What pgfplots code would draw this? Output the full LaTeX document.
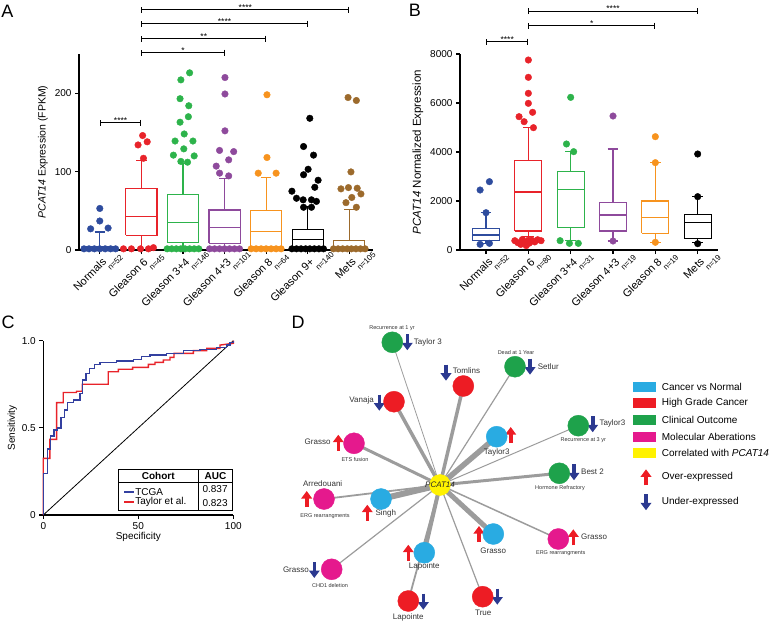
\documentclass[border=0pt]{standalone}
\usepackage{fontspec}
\setmainfont{Liberation Sans}
\usepackage{pgfplots}
\pgfplotsset{compat=1.18}
\usetikzlibrary{arrows.meta}

\definecolor{cNor}{HTML}{2E4C9E}
\definecolor{cG6}{HTML}{E8232A}
\definecolor{cG34}{HTML}{2DB34B}
\definecolor{cG43}{HTML}{8E4A9C}
\definecolor{cG8}{HTML}{F7931E}
\definecolor{cG9}{HTML}{000000}
\definecolor{cMet}{HTML}{9C6A2C}
\definecolor{rocB}{HTML}{3340A0}
\definecolor{rocR}{HTML}{E8232A}
\definecolor{dBlue}{HTML}{29ABE2}
\definecolor{dRed}{HTML}{ED1C24}
\definecolor{dGreen}{HTML}{1EA24B}
\definecolor{dPink}{HTML}{E5198D}
\definecolor{dYel}{HTML}{FFF200}
\definecolor{dNavy}{HTML}{2B3990}
\definecolor{dEdge}{HTML}{9C9C9C}

% category name with its group size set lower and to the right
\newcommand{\cat}[2]{#1\rlap{\hspace{-3pt}\raisebox{-8.5pt}{\fontsize{8}{9}\selectfont #2}}}

\pgfplotsset{
  panel/.style={scale only axis, axis x line*=bottom, axis y line*=left,
    axis line style={line width=1.1pt}, tick style={black, line width=1.1pt},
    tick align=outside, major tick length=4pt, clip=false,
    ticklabel style={font=\fontsize{10}{12}\selectfont},
    label style={font=\fontsize{10.5}{12}\selectfont},
    /pgf/number format/assume math mode=true, /pgf/number format/1000 sep={},
    scaled ticks=false},
  pts/.style={only marks, mark=*, mark size=3.3pt, color=#1, mark options={fill=#1, draw=#1}},
  bxm/.style={draw=#1, line width=1.1pt, solid, unbounded coords=jump, line join=miter},
  catlab/.style={xticklabel style={xshift=8pt, yshift=-8pt, rotate=45, anchor=base east, inner sep=1pt, font=\fontsize{11}{12}\selectfont}},
  edge/.style={dEdge, line cap=round},
  nd/.style={only marks, mark=*, mark size=10.5pt, mark options={fill=#1, draw=#1}},
  arr/.style={#1, line width=3.6pt, -{Triangle[width=10.5pt,length=7.5pt]}},
}
\tikzset{
  sig/.style={line width=1pt, {Bar[width=6pt]}-{Bar[width=6pt]}},
  st/.style={above=-2pt, font=\fontsize{8.5}{8.5}\selectfont, inner sep=1pt},
  lab/.style={font=\fontsize{8}{9}\selectfont, text=black!80, inner sep=1pt},
  sm/.style={font=\fontsize{5.5}{6}\selectfont, text=black!80, inner sep=1pt},
  leg/.style={font=\fontsize{10}{12}\selectfont, anchor=west, inner sep=0pt},
}

\begin{document}
\begin{tikzpicture}
\path[use as bounding box] (0,0) rectangle (780pt,-623pt);

\node[font=\fontsize{18}{20}\selectfont] at (7.5pt,-11.5pt) {A};
\node[font=\fontsize{18}{20}\selectfont] at (415pt,-10pt) {B};
\node[font=\fontsize{18}{20}\selectfont] at (8pt,-322pt) {C};
\node[font=\fontsize{18}{20}\selectfont] at (298pt,-322pt) {D};

% ---------------- A ----------------
\begin{axis}[panel, catlab, at={(79pt,-250pt)}, anchor=south west,
  width=294pt, height=196pt, xmin=0.5, xmax=7.57, ymin=0, ymax=250,
  ytick={0,100,200}, xtick={1,...,7},
  xticklabels={{\cat{Normals}{n=52}}, {\cat{Gleason 6}{n=45}}, {\cat{Gleason 3+4}{n=146}},
    {\cat{Gleason 4+3}{n=101}}, {\cat{Gleason 8}{n=64}}, {\cat{Gleason 9+}{n=140}},
    {\cat{Mets}{n=105}}},
  ylabel={\textit{PCAT14} Expression (FPKM)}]
% boxes: outline, median, whiskers with caps
\addplot[bxm=cNor] coordinates {(0.625,0.5) (1.375,0.5) (1.375,4.5) (0.625,4.5) (0.625,0.5) (nan,nan) (0.625,2) (1.375,2) (nan,nan) (1,4.5) (1,23) (nan,nan) (0.875,23) (1.125,23)};
\addplot[bxm=cG6] coordinates {(1.625,19) (2.375,19) (2.375,79) (1.625,79) (1.625,19) (nan,nan) (1.625,43) (2.375,43) (nan,nan) (2,79) (2,114) (nan,nan) (1.875,114) (2.125,114) (nan,nan) (2,19) (2,0)};
\addplot[bxm=cG34] coordinates {(2.625,10) (3.375,10) (3.375,71) (2.625,71) (2.625,10) (nan,nan) (2.625,35) (3.375,35) (nan,nan) (3,71) (3,110) (nan,nan) (2.875,110) (3.125,110) (nan,nan) (3,10) (3,0)};
\addplot[bxm=cG43] coordinates {(3.625,8.5) (4.375,8.5) (4.375,51) (3.625,51) (3.625,8.5) (nan,nan) (3.625,28.5) (4.375,28.5) (nan,nan) (4,51) (4,91.5) (nan,nan) (3.875,91.5) (4.125,91.5) (nan,nan) (4,8.5) (4,0)};
\addplot[bxm=cG8] coordinates {(4.625,5) (5.375,5) (5.375,50) (4.625,50) (4.625,5) (nan,nan) (4.625,24) (5.375,24) (nan,nan) (5,50) (5,92) (nan,nan) (4.875,92) (5.125,92) (nan,nan) (5,5) (5,0)};
\addplot[bxm=cG9] coordinates {(5.625,2) (6.375,2) (6.375,26.5) (5.625,26.5) (5.625,2) (nan,nan) (5.625,13.5) (6.375,13.5) (nan,nan) (6,26.5) (6,55) (nan,nan) (5.875,55) (6.125,55)};
\addplot[bxm=cMet] coordinates {(6.625,0.3) (7.375,0.3) (7.375,12) (6.625,12) (6.625,0.3) (nan,nan) (6.625,3) (7.375,3) (nan,nan) (7,12) (7,52) (nan,nan) (6.875,52) (7.125,52)};

\addplot[pts=cNor] coordinates {(1,53) (1,37) (0.78,27) (1.2,28) (0.62,1.5) (0.74,1.5) (0.87,1.5) (1,1.5) (1.13,1.5) (1.26,1.5) (1.38,1.5)};
\addplot[pts=cG6] coordinates {(2.03,146) (1.92,134) (2.14,138) (2.05,117) (1.57,1.5) (1.76,1.5) (1.98,1.5) (2.17,1.5) (2.29,3)};
\addplot[pts=cG34] coordinates {(2.95,217) (3.16,226) (2.93,193) (3.14,184) (3.13,170) (2.93,163) (3.03,148) (2.81,139) (3.24,139) (3.02,129) (2.77,121) (3.27,120) (2.95,113) (3.11,112) (2.62,1.5) (2.73,1.5) (2.84,1.5) (2.95,1.5) (3.05,1.5) (3.16,1.5) (3.27,1.5) (3.38,1.5)};
\addplot[pts=cG43] coordinates {(4.01,220) (4.01,199) (4.01,152) (3.88,127) (4.22,125.5) (4.10,115) (3.80,107) (3.88,98) (4.10,94.5) (3.64,1.5) (3.76,1.5) (3.88,1.5) (4,1.5) (4.12,1.5) (4.24,1.5) (4.36,1.5)};
\addplot[pts=cG8] coordinates {(5.02,198) (5.02,118) (4.81,98) (5.24,98) (4.64,1.5) (4.76,1.5) (4.88,1.5) (5,1.5) (5.12,1.5) (5.24,1.5) (5.36,1.5)};
\addplot[pts=cG9] coordinates {(6.05,168) (5.90,132) (6.14,121) (6.01,103) (5.90,96) (6.25,89) (5.62,75) (6.17,80) (5.73,66) (5.89,64) (6.09,64) (6.21,62) (5.90,54.5) (6.09,54.5) (5.62,1.5) (5.73,1.5) (5.84,1.5) (5.95,1.5) (6.05,1.5) (6.16,1.5) (6.27,1.5) (6.38,1.5)};
\addplot[pts=cMet] coordinates {(6.97,194.5) (7.17,190.7) (7.04,99.6) (6.80,78) (6.98,79.6) (7.19,78.8) (7.28,71.5) (7.06,67) (6.92,60.4) (7.17,54.5) (6.62,1.5) (6.73,1.5) (6.84,1.5) (6.95,1.5) (7.05,1.5) (7.16,1.5) (7.27,1.5) (7.38,1.5)};

\draw[sig] (axis cs:1,162) -- node[st]{****} (axis cs:2,162);
\draw[sig] (axis cs:2,251.6) -- node[st]{*} (axis cs:4,251.6);
\draw[sig] (axis cs:2,269.5) -- node[st]{**} (axis cs:5,269.5);
\draw[sig] (axis cs:2,288.6) -- node[st]{****} (axis cs:6,288.6);
\draw[sig] (axis cs:2,306.5) -- node[st]{****} (axis cs:7,306.5);
\end{axis}

% ---------------- B ----------------
\begin{axis}[panel, catlab, at={(460pt,-250pt)}, anchor=south west,
  width=258pt, height=196pt, xmin=0.385, xmax=6.48, ymin=0, ymax=8000,
  ytick={0,2000,4000,6000,8000}, xtick={1,...,6},
  xticklabels={{\cat{Normals}{n=52}}, {\cat{Gleason 6}{n=80}}, {\cat{Gleason 3+4}{n=31}},
    {\cat{Gleason 4+3}{n=19}}, {\cat{Gleason 8}{n=19}}, {\cat{Mets}{n=19}}},
  ylabel={\textit{PCAT14} Normalized Expression},
  ylabel style={font=\fontsize{11.5}{13}\selectfont}]
\addplot[bxm=cNor] coordinates {(0.68,380) (1.32,380) (1.32,885) (0.68,885) (0.68,380) (nan,nan) (0.68,612) (1.32,612) (nan,nan) (1,885) (1,1523) (nan,nan) (0.875,1523) (1.125,1523) (nan,nan) (1,380) (1,280) (nan,nan) (0.875,280) (1.125,280)};
\addplot[bxm=cG6] coordinates {(1.68,775) (2.32,775) (2.32,3660) (1.68,3660) (1.68,775) (nan,nan) (1.68,2367) (2.32,2367) (nan,nan) (2,3660) (2,4993) (nan,nan) (1.875,4993) (2.125,4993) (nan,nan) (2,775) (2,544) (nan,nan) (1.875,544) (2.125,544)};
\addplot[bxm=cG34] coordinates {(2.68,911) (3.32,911) (3.32,3197) (2.68,3197) (2.68,911) (nan,nan) (2.68,2477) (3.32,2477) (nan,nan) (3,3197) (3,4014) (nan,nan) (2.875,4014) (3.125,4014) (nan,nan) (3,911) (3,380) (nan,nan) (2.875,380) (3.125,380)};
\addplot[bxm=cG43] coordinates {(3.68,776) (4.32,776) (4.32,1931) (3.68,1931) (3.68,776) (nan,nan) (3.68,1429) (4.32,1429) (nan,nan) (4,1931) (4,4123) (nan,nan) (3.875,4123) (4.125,4123) (nan,nan) (4,776) (4,367) (nan,nan) (3.875,367) (4.125,367)};
\addplot[bxm=cG8] coordinates {(4.68,680) (5.32,680) (5.32,2000) (4.68,2000) (4.68,680) (nan,nan) (4.68,1320) (5.32,1320) (nan,nan) (5,2000) (5,3565) (nan,nan) (4.875,3565) (5.125,3565) (nan,nan) (5,680) (5,314) (nan,nan) (4.875,314) (5.125,314)};
\addplot[bxm=cG9] coordinates {(5.68,476) (6.32,476) (6.32,1442) (5.68,1442) (5.68,476) (nan,nan) (5.68,1129) (6.32,1129) (nan,nan) (6,1442) (6,2177) (nan,nan) (5.875,2177) (6.125,2177) (nan,nan) (6,476) (6,290) (nan,nan) (5.875,290) (6.125,290)};

\addplot[pts=cNor] coordinates {(0.86,2449) (1.08,2789) (1,1523) (0.86,232) (1.08,272)};
\addplot[pts=cG6] coordinates {(2,7755) (2,7048) (2,6395) (2,5986) (2.1,5620) (1.78,5442) (1.9,5238) (2.12,4993) (1.68,380) (1.75,300) (1.82,230) (1.89,330) (1.95,180) (2.02,280) (2.08,400) (2.15,330) (2.22,420) (2.3,380) (1.86,430) (2.0,400)};
\addplot[pts=cG34] coordinates {(3,6231) (2.9,4327) (3.07,4014) (2.75,380) (2.97,272) (3.18,272)};
\addplot[pts=cG43] coordinates {(4,5469) (4,367)};
\addplot[pts=cG8] coordinates {(5,4626) (5,3565) (5,314)};
\addplot[pts=cG9] coordinates {(6,3918) (6,2177) (6,258)};

\draw[sig] (axis cs:1,8502) -- node[st]{****} (axis cs:2,8502);
\draw[sig] (axis cs:2,9155) -- node[st]{*} (axis cs:5,9155);
\draw[sig] (axis cs:2,9755) -- node[st]{****} (axis cs:6,9755);
\end{axis}

% ---------------- C ----------------
\begin{axis}[panel, at={(43.3pt,-515pt)}, anchor=south west,
  width=190pt, height=174.3pt, xmin=0, xmax=100, ymin=0, ymax=1,
  xtick={0,50,100}, ytick={0,0.5,1}, yticklabels={0,0.5,1.0},
  xlabel={Specificity}, ylabel={Sensitivity},
  xlabel style={yshift=4pt}, ylabel style={yshift=-2pt},
  label style={font=\fontsize{10}{12}\selectfont}]
\addplot[black, line width=0.8pt] coordinates {(0,0) (100,1)};
\addplot[rocR, line width=1.4pt] coordinates {(0,0) (0,0.325) (3.5,0.325) (3.5,0.434) (7,0.434) (7,0.645) (10.5,0.645) (10.5,0.703) (17.5,0.703) (17.5,0.71) (20.5,0.71) (20.5,0.75) (34.2,0.75) (34.2,0.822) (39.5,0.822) (39.5,0.836) (47,0.836) (47,0.847) (55.3,0.847) (55.3,0.864) (58.8,0.864) (58.8,0.876) (63.2,0.876) (63.2,0.889) (66.7,0.889) (66.7,0.904) (68.8,0.904) (68.8,0.927) (79,0.927) (79,0.943) (86,0.943) (86,0.956) (93,0.956) (93,0.975) (100,0.985) (100,1)};
\addplot[rocB, line width=1.4pt] coordinates {(0,0) (0,0.239) (2.3,0.239) (2.3,0.379) (3.9,0.379) (3.9,0.453) (5.6,0.453) (5.6,0.488) (7.4,0.488) (7.4,0.50) (9.3,0.50) (9.3,0.56) (11.1,0.56) (11.1,0.602) (12.8,0.602) (12.8,0.644) (15.8,0.644) (15.8,0.66) (19.3,0.66) (19.3,0.698) (20.7,0.698) (20.7,0.774) (22.5,0.774) (22.5,0.813) (24.2,0.813) (24.2,0.841) (26.8,0.841) (26.8,0.864) (29.8,0.864) (29.8,0.876) (38.6,0.876) (38.6,0.883) (47.4,0.883) (47.4,0.893) (51.8,0.893) (51.8,0.908) (56.1,0.908) (56.1,0.918) (64.9,0.918) (64.9,0.927) (73.7,0.927) (73.7,0.943) (82.5,0.943) (82.5,0.95) (91.2,0.95) (91.2,0.962) (96.5,0.962) (96.5,0.975) (98.2,0.975) (98.2,0.989) (100,0.989) (100,1)};
% legend table
\fill[white] (axis cs:39.5,0.029) rectangle (axis cs:99.5,0.262);
\draw[line width=0.8pt] (axis cs:39.5,0.029) rectangle (axis cs:99.5,0.262);
\draw[line width=0.8pt] (axis cs:39.5,0.188) -- (axis cs:99.5,0.188);
\draw[line width=0.8pt] (axis cs:81.6,0.029) -- (axis cs:81.6,0.262);
\node[font=\fontsize{10}{12}\selectfont\bfseries] at (axis cs:60.5,0.224) {Cohort};
\node[font=\fontsize{10}{12}\selectfont\bfseries] at (axis cs:90.6,0.224) {AUC};
\draw[rocB, line width=1.8pt] (axis cs:42.5,0.134) -- (axis cs:47.8,0.134);
\draw[rocR, line width=1.8pt] (axis cs:42.5,0.073) -- (axis cs:47.8,0.073);
\node[font=\fontsize{10}{12}\selectfont, anchor=west, inner sep=0pt] at (axis cs:48.3,0.134) {TCGA};
\node[font=\fontsize{10}{12}\selectfont, anchor=west, inner sep=0pt] at (axis cs:48.3,0.073) {Taylor et al.};
\node[font=\fontsize{10}{12}\selectfont] at (axis cs:90.4,0.147) {0.837};
\node[font=\fontsize{10}{12}\selectfont] at (axis cs:90.4,0.067) {0.823};
\end{axis}

% ---------------- D ----------------
\begin{axis}[scale only axis, hide axis, clip=false, at={(270pt,-623pt)}, anchor=south west,
  width=510pt, height=308pt, xmin=270, xmax=780, ymin=-623, ymax=-315]
\addplot[edge, line width=0.8pt] coordinates {(440,-485) (392.3,-342.3)};
\addplot[edge, line width=1.2pt] coordinates {(440,-485) (515,-366.7)};
\addplot[edge, line width=3.5pt] coordinates {(440,-485) (463.3,-386)};
\addplot[edge, line width=3.5pt] coordinates {(440,-485) (394,-401.7)};
\addplot[edge, line width=3pt] coordinates {(440,-485) (354,-443.3)};
\addplot[edge, line width=5.5pt] coordinates {(440,-485) (496.7,-436.7)};
\addplot[edge, line width=1pt] coordinates {(440,-485) (578.3,-425.7)};
\addplot[edge, line width=3pt] coordinates {(440,-485) (559.3,-473.3)};
\addplot[edge, line width=1.8pt] coordinates {(440,-485) (324,-499)};
\addplot[edge, line width=6pt] coordinates {(440,-485) (381,-499)};
\addplot[edge, line width=1.2pt] coordinates {(440,-485) (331.7,-569.3)};
\addplot[edge, line width=1.8pt] coordinates {(440,-485) (408.3,-601)};
\addplot[edge, line width=4pt] coordinates {(440,-485) (424.3,-552.7)};
\addplot[edge, line width=5pt] coordinates {(440,-485) (493.3,-534)};
\addplot[edge, line width=1.5pt] coordinates {(440,-485) (558.3,-539)};
\addplot[edge, line width=1.2pt] coordinates {(440,-485) (482.7,-596.7)};

\addplot[nd=dGreen] coordinates {(392.3,-342.3) (515,-366.7) (578.3,-425.7) (559.3,-473.3)};
\addplot[nd=dRed] coordinates {(463.3,-386) (394,-401.7) (408.3,-601) (482.7,-596.7)};
\addplot[nd=dPink] coordinates {(354,-443.3) (324,-499) (331.7,-569.3) (558.3,-539)};
\addplot[nd=dBlue] coordinates {(496.7,-436.7) (381,-499) (424.3,-552.7) (493.3,-534)};
\addplot[nd=dYel] coordinates {(440,-485)};

% up arrows (tails), down arrows (tails)
\addplot[arr=dRed, quiver={u=0, v=16}] coordinates {(338.3,-450.7) (510.7,-443) (306.7,-507) (367.3,-520.7) (408.3,-560.7) (479,-542) (573.3,-545.3) (646,-485.3)};
\addplot[arr=dNavy, quiver={u=0, v=-16}] coordinates {(407.3,-334.3) (530,-358.7) (446,-364.7) (379.3,-394.7) (592.7,-416.3) (574,-464.3) (314.3,-562) (423.3,-593.7) (497.3,-588.7) (646,-494.3)};

\node[lab, anchor=west] at (axis cs:412.7,-342) {Taylor 3};
\node[sm] at (axis cs:392,-328.3) {Recurrence at 1 yr};
\node[sm] at (axis cs:516,-352.3) {Dead at 1 Year};
\node[lab, anchor=west] at (axis cs:536.7,-366.5) {Setlur};
\node[lab, anchor=west] at (axis cs:451.7,-370.7) {Tomlins};
\node[lab, anchor=east] at (axis cs:375,-400.5) {Vanaja};
\node[lab, anchor=east] at (axis cs:331.7,-441.7) {Grasso};
\node[sm] at (axis cs:355,-460) {ETS fusion};
\node[lab] at (axis cs:496.7,-452.3) {Taylor3};
\node[lab, anchor=west] at (axis cs:598.3,-423.3) {Taylor3};
\node[sm] at (axis cs:583.3,-440) {Recurrence at 3 yr};
\node[lab, anchor=west] at (axis cs:580,-471.7) {Best 2};
\node[sm] at (axis cs:560,-487.7) {Hormone Refractory};
\node[lab] at (axis cs:322.7,-484) {Arredouani};
\node[sm] at (axis cs:325,-516) {ERG rearrangments};
\node[lab, anchor=west] at (axis cs:374.3,-513.3) {Singh};
\node[lab, anchor=east] at (axis cs:310,-570) {Grasso};
\node[sm] at (axis cs:330,-586) {CHD1 deletion};
\node[lab] at (axis cs:424.3,-566.7) {Lapointe};
\node[lab] at (axis cs:493.3,-550.7) {Grasso};
\node[lab, anchor=west] at (axis cs:580,-536.7) {Grasso};
\node[sm] at (axis cs:560.7,-552.7) {ERG rearrangments};
\node[lab] at (axis cs:408.3,-617.3) {Lapointe};
\node[lab] at (axis cs:483.3,-612.7) {True};

% legend
\fill[dBlue] (axis cs:633.3,-381.7) rectangle (axis cs:656,-391.7);
\fill[dRed] (axis cs:633.3,-398.3) rectangle (axis cs:656,-408.3);
\fill[dGreen] (axis cs:633.3,-415) rectangle (axis cs:656,-425);
\fill[dPink] (axis cs:633.3,-431.7) rectangle (axis cs:656,-441.7);
\fill[dYel] (axis cs:633.3,-448.3) rectangle (axis cs:656,-458.3);
\node[leg] at (axis cs:661.7,-386.7) {Cancer vs Normal};
\node[leg] at (axis cs:661.7,-403.3) {High Grade Cancer};
\node[leg] at (axis cs:661.7,-420) {Clinical Outcome};
\node[leg] at (axis cs:661.7,-436.7) {Molecular Aberations};
\node[leg] at (axis cs:661.7,-453.3) {Correlated with \textit{PCAT14}};
\node[leg] at (axis cs:661.7,-477.3) {Over-expressed};
\node[leg] at (axis cs:661.7,-502.3) {Under-expressed};
\end{axis}
% label of the centre node, above its marker
\node[font=\fontsize{8}{9}\selectfont\itshape, text=black!85, inner sep=0pt] at (440pt,-485pt) {PCAT14};
\end{tikzpicture}
\end{document}
